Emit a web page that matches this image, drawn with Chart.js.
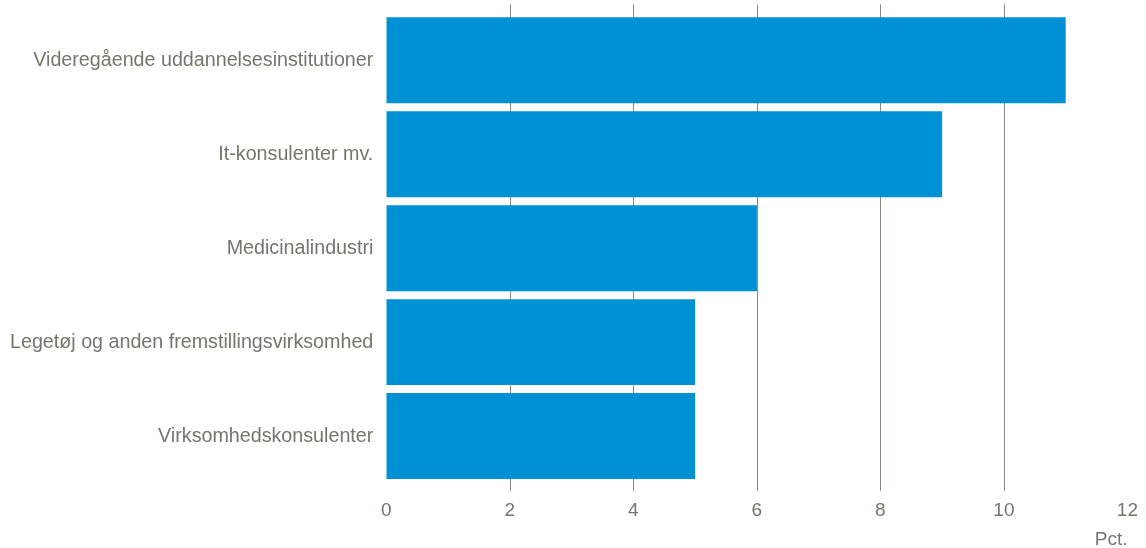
<!DOCTYPE html>
<html>
<head>
<meta charset="utf-8">
<script src="https://cdn.jsdelivr.net/npm/chart.js@4/dist/chart.umd.min.js"></script>
<style>
  html, body { margin: 0; padding: 0; background: #fff; }
  #wrap { width: 1146px; height: 548px; }
</style>
</head>
<body>
<div id="wrap"><canvas id="myChart"></canvas></div>
<script>
'use strict';

// DATA
let categories = [
  'Videregående uddannelsesinstitutioner',
  'It-konsulenter mv.',
  'Medicinalindustri',
  'Legetøj og anden fremstillingsvirksomhed',
  'Virksomhedskonsulenter'
];
let shareValues = [11, 9, 6, 5, 5];
let xTicks = [0, 2, 4, 6, 8, 10, 12];

// STYLE
const textColor = '#75766a';
const gridColor = '#8a8a80';
const barColor = '#0091d5';
const fontFamily = 'Liberation Sans, Arial, sans-serif';

// draws the vertical gridlines a bit past the plot area, top and bottom
const gridPlugin = {
  id: 'longGrid',
  beforeDatasetsDraw(chart) {
    let ctx = chart.ctx;
    let xScale = chart.scales.x;
    let area = chart.chartArea;
    ctx.save();
    ctx.strokeStyle = gridColor;
    ctx.lineWidth = 1;
    for (let i = 0; i < xTicks.length; i++) {
      let v = xTicks[i];
      if (v === xTicks[0] || v === xTicks[xTicks.length - 1]) continue;
      let px = Math.round(xScale.getPixelForValue(v)) + 0.5;
      ctx.beginPath();
      ctx.moveTo(px, area.top - 9);
      ctx.lineTo(px, area.bottom + 8);
      ctx.stroke();
    }
    ctx.restore();
  }
};

const data = {
  labels: categories,
  datasets: [{
    data: shareValues,
    backgroundColor: barColor,
    borderWidth: 0,
    categoryPercentage: 1,
    barPercentage: 0.915
  }]
};

const config = {
  type: 'bar',
  data: data,
  options: {
    indexAxis: 'y',
    responsive: true,
    maintainAspectRatio: false,
    animation: false,
    layout: {
      padding: { top: 0, right: 0, left: 5, bottom: 0 }
    },
    plugins: {
      legend: { display: false },
      tooltip: { enabled: false }
    },
    scales: {
      x: {
        min: 0,
        max: 12,
        afterBuildTicks: (scale) => {
          scale.ticks = xTicks.map(v => ({ value: v }));
        },
        grid: { display: false },
        border: { display: false },
        ticks: {
          color: textColor,
          font: { family: fontFamily, size: 19 },
          padding: 8
        },
        title: {
          display: true,
          text: 'Pct.',
          align: 'end',
          color: textColor,
          font: { family: fontFamily, size: 19, lineHeight: 0.85 },
          padding: { top: 2, bottom: 0 }
        }
      },
      y: {
        grid: { display: false },
        border: { display: false },
        ticks: {
          color: textColor,
          font: { family: fontFamily, size: 19.7, lineHeight: 0.85 },
          padding: 5
        }
      }
    }
  },
  plugins: [gridPlugin]
};

let canvasChart = document.getElementById('myChart');
const myChart = new Chart(canvasChart, config);
</script>
</body>
</html>
